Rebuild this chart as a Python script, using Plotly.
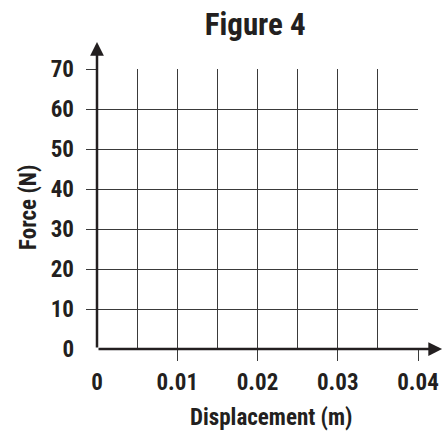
import plotly.graph_objects as go

# ---- data (empty graph-paper chart) ----
x_ticks = [0, 0.01, 0.02, 0.03, 0.04]
x_labels = ["0", "0.01", "0.02", "0.03", "0.04"]
y_ticks = [0, 10, 20, 30, 40, 50, 60, 70]
y_labels = ["0", "10", "20", "30", "40", "50", "60", "70"]
x_tick_marks = [0.01, 0.02, 0.03, 0.04]
y_tick_marks = [10, 20, 30, 40, 50, 60, 70]
x_range = [0, 0.04]
y_range = [0, 70]
x_arrow_end = 0.043
y_arrow_end = 76.75

title_text = "Figure 4"
x_title = "Displacement (m)"
y_title = "Force (N)"

FONT = "Roboto Condensed, Liberation Sans Narrow, Arial Narrow, sans-serif"
INK = "#231f20"
GRID = "#3a3a3a"

fig = go.Figure()
fig.add_trace(go.Scatter(x=[], y=[], xaxis="x", yaxis="y", showlegend=False))
fig.add_trace(go.Scatter(x=[], y=[], xaxis="x2", yaxis="y2", showlegend=False))

fig.update_layout(
    width=447, height=434,
    margin=dict(l=97, r=29, t=69, b=85, autoexpand=False),
    paper_bgcolor="white", plot_bgcolor="white",
    showlegend=False,
    title=dict(text=title_text, x=0.571, xanchor="center", y=0.944, yanchor="middle",
               font=dict(family=FONT, size=31, color=INK, weight="bold")),
    xaxis=dict(range=x_range, tickmode="array", tickvals=x_ticks, ticktext=x_labels,
               showgrid=True, gridcolor=GRID, gridwidth=1, zeroline=False,
               minor=dict(dtick=0.005, tick0=0, showgrid=True, gridcolor=GRID, gridwidth=1),
               ticks="", showline=False, ticklabelstandoff=17, automargin=False,
               tickfont=dict(family=FONT, size=23, color=INK, weight="bold"),
               fixedrange=True),
    yaxis=dict(range=y_range, tickmode="array", tickvals=y_ticks, ticktext=y_labels,
               showgrid=True, gridcolor=GRID, gridwidth=1, zeroline=False,
               ticks="", showline=False, ticklabelstandoff=22, automargin=False,
               tickfont=dict(family=FONT, size=23, color=INK, weight="bold"),
               fixedrange=True),
    xaxis2=dict(range=x_range, overlaying="x", anchor="y2", side="bottom",
                tickmode="array", tickvals=x_tick_marks, showticklabels=False,
                ticks="outside", ticklen=11, tickwidth=1, tickcolor=GRID, automargin=False,
                showgrid=False, zeroline=False, showline=False, fixedrange=True),
    yaxis2=dict(range=y_range, overlaying="y", anchor="x2", side="left",
                tickmode="array", tickvals=y_tick_marks, showticklabels=False,
                ticks="outside", ticklen=10, tickwidth=1, tickcolor=GRID, automargin=False,
                showgrid=False, zeroline=False, showline=False, fixedrange=True),
)

# axis arrows
fig.add_annotation(x=x_arrow_end, y=0, ax=0, ay=0, xref="x", yref="y", axref="x", ayref="y",
                   text="", showarrow=True, arrowhead=2, arrowsize=1.1, arrowwidth=2.5,
                   arrowcolor=INK)
fig.add_annotation(x=0, y=y_arrow_end, ax=0, ay=0, xref="x", yref="y", axref="x", ayref="y",
                   text="", showarrow=True, arrowhead=2, arrowsize=1.1, arrowwidth=2.5,
                   arrowcolor=INK)

# axis titles
fig.add_annotation(x=0.545, y=-0.246, xref="paper", yref="paper", text=x_title,
                   showarrow=False, xanchor="center", yanchor="middle",
                   font=dict(family=FONT, size=23, color=INK, weight="bold"))
fig.add_annotation(x=-0.215, y=0.507, xref="paper", yref="paper", text=y_title,
                   showarrow=False, xanchor="center", yanchor="middle", textangle=-90,
                   font=dict(family=FONT, size=23, color=INK, weight="bold"))

fig.write_html("out.html", config={"displayModeBar": False, "staticPlot": True},
               post_script="document.body.style.margin='0';document.body.style.overflow='hidden';")
